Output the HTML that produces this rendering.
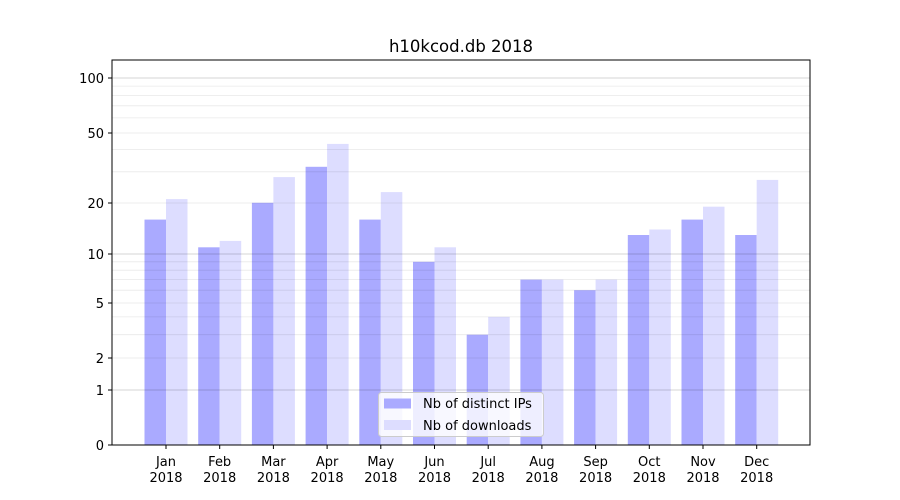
<!DOCTYPE html>
<html><head><meta charset="utf-8"><style>body{margin:0;background:#fff}svg{display:block}text{font-family:"DejaVu Sans","Liberation Sans",sans-serif;fill:#000}</style></head>
<body>
<svg width="900" height="500" xmlns="http://www.w3.org/2000/svg">
<rect width="900" height="500" fill="#fff"/>
<g fill="#aaaaff">
<rect x="144.5" y="219.6" width="21.5" height="225.4"/>
<rect x="198.2" y="247.3" width="21.5" height="197.7"/>
<rect x="251.9" y="202.8" width="21.5" height="242.2"/>
<rect x="305.6" y="166.8" width="21.5" height="278.2"/>
<rect x="359.3" y="219.6" width="21.5" height="225.4"/>
<rect x="413" y="261.8" width="21.5" height="183.2"/>
<rect x="466.7" y="334.7" width="21.5" height="110.3"/>
<rect x="520.4" y="279.6" width="21.5" height="165.4"/>
<rect x="574.1" y="290.2" width="21.5" height="154.8"/>
<rect x="627.8" y="235" width="21.5" height="210"/>
<rect x="681.5" y="219.6" width="21.5" height="225.4"/>
<rect x="735.2" y="235" width="21.5" height="210"/>
</g>
<g fill="#ddddff">
<rect x="166" y="199.1" width="21.5" height="245.9"/>
<rect x="219.7" y="240.9" width="21.5" height="204.1"/>
<rect x="273.4" y="177.1" width="21.5" height="267.9"/>
<rect x="327.1" y="143.9" width="21.5" height="301.1"/>
<rect x="380.8" y="192.1" width="21.5" height="252.9"/>
<rect x="434.5" y="247.3" width="21.5" height="197.7"/>
<rect x="488.2" y="316.9" width="21.5" height="128.1"/>
<rect x="541.9" y="279.6" width="21.5" height="165.4"/>
<rect x="595.6" y="279.6" width="21.5" height="165.4"/>
<rect x="649.3" y="229.5" width="21.5" height="215.5"/>
<rect x="703" y="206.7" width="21.5" height="238.3"/>
<rect x="756.7" y="179.9" width="21.5" height="265.1"/>
</g>
<g stroke="#000" stroke-opacity="0.09" stroke-width="0.8">
<line x1="112" x2="810" y1="334.7" y2="334.7"/><line x1="112" x2="810" y1="316.9" y2="316.9"/>
<line x1="112" x2="810" y1="290.2" y2="290.2"/><line x1="112" x2="810" y1="279.6" y2="279.6"/>
<line x1="112" x2="810" y1="270.2" y2="270.2"/><line x1="112" x2="810" y1="261.8" y2="261.8"/>
<line x1="112" x2="810" y1="171.8" y2="171.8"/><line x1="112" x2="810" y1="149.5" y2="149.5"/>
<line x1="112" x2="810" y1="117.9" y2="117.9"/><line x1="112" x2="810" y1="105.8" y2="105.8"/>
<line x1="112" x2="810" y1="95.4" y2="95.4"/><line x1="112" x2="810" y1="86.1" y2="86.1"/>
<line x1="112" x2="810" y1="358" y2="358"/><line x1="112" x2="810" y1="303" y2="303"/>
<line x1="112" x2="810" y1="203" y2="203"/><line x1="112" x2="810" y1="133" y2="133"/>
</g>
<g stroke="#000" stroke-opacity="0.22" stroke-width="0.8">
<line x1="112" x2="810" y1="390" y2="390"/><line x1="112" x2="810" y1="254" y2="254"/><line x1="112" x2="810" y1="78" y2="78"/>
</g>
<rect x="112" y="60" width="698" height="385" fill="none" stroke="#000" stroke-width="1"/>
<g stroke="#000" stroke-width="1">
<line x1="108" x2="112" y1="445" y2="445"/><line x1="108" x2="112" y1="390" y2="390"/>
<line x1="108" x2="112" y1="358" y2="358"/><line x1="108" x2="112" y1="303" y2="303"/>
<line x1="108" x2="112" y1="254" y2="254"/><line x1="108" x2="112" y1="203" y2="203"/>
<line x1="108" x2="112" y1="133" y2="133"/><line x1="108" x2="112" y1="78" y2="78"/>
</g>
<g font-size="13" text-anchor="end">
<text x="104" y="450">0</text><text x="104" y="395">1</text><text x="104" y="363">2</text>
<text x="104" y="308">5</text><text x="104" y="259">10</text><text x="104" y="208">20</text>
<text x="104" y="138">50</text><text x="104" y="83">100</text>
</g>
<g stroke="#000"><line x1="166" x2="166" y1="445" y2="449"/><line x1="219.7" x2="219.7" y1="445" y2="449"/><line x1="273.4" x2="273.4" y1="445" y2="449"/><line x1="327.1" x2="327.1" y1="445" y2="449"/><line x1="380.8" x2="380.8" y1="445" y2="449"/><line x1="434.5" x2="434.5" y1="445" y2="449"/><line x1="488.2" x2="488.2" y1="445" y2="449"/><line x1="541.9" x2="541.9" y1="445" y2="449"/><line x1="595.6" x2="595.6" y1="445" y2="449"/><line x1="649.3" x2="649.3" y1="445" y2="449"/><line x1="703" x2="703" y1="445" y2="449"/><line x1="756.7" x2="756.7" y1="445" y2="449"/></g>
<g font-size="13" text-anchor="middle">
<text x="166" y="466">Jan</text><text x="166" y="482">2018</text>
<text x="219.7" y="466">Feb</text><text x="219.7" y="482">2018</text>
<text x="273.4" y="466">Mar</text><text x="273.4" y="482">2018</text>
<text x="327.1" y="466">Apr</text><text x="327.1" y="482">2018</text>
<text x="380.8" y="466">May</text><text x="380.8" y="482">2018</text>
<text x="434.5" y="466">Jun</text><text x="434.5" y="482">2018</text>
<text x="488.2" y="466">Jul</text><text x="488.2" y="482">2018</text>
<text x="541.9" y="466">Aug</text><text x="541.9" y="482">2018</text>
<text x="595.6" y="466">Sep</text><text x="595.6" y="482">2018</text>
<text x="649.3" y="466">Oct</text><text x="649.3" y="482">2018</text>
<text x="703" y="466">Nov</text><text x="703" y="482">2018</text>
<text x="756.7" y="466">Dec</text><text x="756.7" y="482">2018</text>
</g>
<text x="461" y="52" font-size="16.5" text-anchor="middle">h10kcod.db 2018</text>
<rect x="378.5" y="392.5" width="165" height="44" rx="3" fill="#fff" fill-opacity="0.8" stroke="#ccc"/>
<rect x="384" y="398.5" width="27" height="10" fill="#aaaaff"/>
<rect x="384" y="420" width="27" height="10" fill="#ddddff"/>
<text x="423" y="408" font-size="13">Nb of distinct IPs</text>
<text x="423" y="430" font-size="13">Nb of downloads</text>
</svg>
</body></html>
